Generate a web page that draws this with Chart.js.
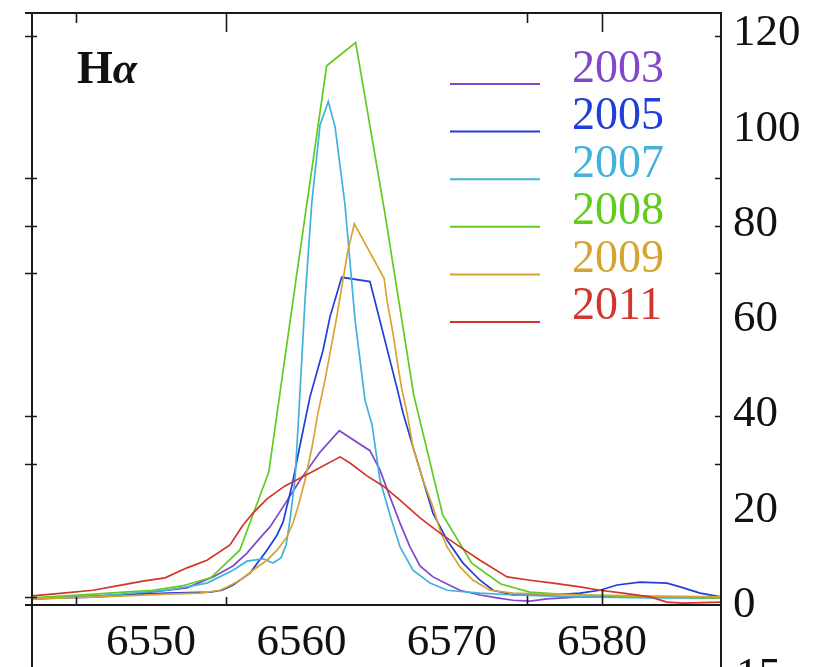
<!DOCTYPE html>
<html>
<head>
<meta charset="utf-8">
<script src="https://cdn.jsdelivr.net/npm/chart.js@4.4.1/dist/chart.umd.min.js"></script>
<style>
  html, body { margin: 0; padding: 0; background: #fff; overflow: hidden; }
  #wrap { position: relative; width: 821px; height: 667px; }
</style>
</head>
<body>
<div id="wrap"><canvas id="chart"></canvas></div>
<script>
// H-alpha line profiles, wavelength (Angstrom) vs flux, one pair of arrays per epoch
const years = ['2003', '2005', '2007', '2008', '2009', '2011'];
const colors = ['#8148cc', '#1f3fd6', '#40b2dc', '#5fcc1e', '#d8a431', '#d2352c'];

const wl2003 = [6542.08, 6546.60, 6548.80, 6552.39, 6554.12, 6555.45, 6556.38, 6557.25, 6557.91, 6558.78, 6559.91, 6561.24, 6562.52, 6564.56, 6565.23, 6565.89, 6566.56, 6567.22, 6567.89, 6568.75, 6569.69, 6570.55, 6571.88, 6573.01, 6574.08, 6575.21, 6576.34, 6578.53, 6583.19, 6587.91];
const fx2003 = [1.3, 1.7, 2.3, 3.6, 5.9, 8.2, 10.9, 14.1, 16.4, 20.6, 26.2, 32.1, 36.6, 32.4, 28.3, 22.7, 17.2, 12.2, 8.2, 5.9, 4.4, 3.1, 2.1, 1.5, 1.0, 0.8, 1.3, 1.7, 1.7, 1.5];

const wl2005 = [6542.08, 6546.60, 6551.06, 6553.92, 6554.72, 6555.45, 6556.58, 6557.71, 6558.38, 6558.78, 6559.38, 6559.91, 6560.57, 6561.44, 6561.90, 6562.68, 6564.56, 6565.43, 6566.34, 6566.76, 6567.42, 6568.09, 6568.75, 6569.69, 6570.75, 6571.88, 6572.75, 6574.08, 6576.54, 6578.53, 6579.86, 6580.99, 6582.52, 6584.32, 6585.19, 6586.52, 6587.91];
const fx2005 = [1.3, 1.9, 2.5, 2.7, 3.1, 4.2, 6.7, 11.5, 14.7, 17.4, 25.2, 33.6, 43.7, 53.5, 60.5, 68.8, 67.9, 57.1, 45.8, 40.3, 33.2, 26.2, 19.3, 13.6, 8.8, 5.2, 3.1, 2.1, 2.1, 2.5, 3.1, 4.2, 4.8, 4.6, 3.8, 2.5, 1.7];

const wl2007 = [6542.08, 6546.60, 6551.06, 6553.72, 6555.45, 6556.38, 6557.45, 6558.11, 6558.64, 6558.98, 6559.24, 6559.57, 6559.84, 6560.24, 6560.69, 6561.24, 6561.79, 6562.24, 6562.90, 6563.57, 6564.23, 6564.70, 6565.23, 6565.89, 6566.56, 6567.42, 6568.56, 6569.69, 6571.88, 6574.08, 6578.53, 6583.19, 6587.91];
const fx2007 = [1.3, 1.9, 3.1, 4.6, 7.3, 9.2, 9.7, 8.8, 9.9, 12.6, 17.8, 26.2, 40.9, 64.0, 84.4, 100.8, 105.7, 100.4, 84.0, 59.8, 43.0, 37.8, 26.2, 18.9, 12.2, 7.3, 4.6, 3.1, 2.5, 2.1, 1.7, 1.5, 1.5];

const wl2008 = [6542.08, 6544.32, 6546.25, 6548.18, 6550.11, 6552.04, 6553.97, 6555.90, 6557.83, 6559.75, 6561.68, 6563.61, 6565.54, 6567.47, 6569.40, 6571.33, 6573.26, 6575.19, 6577.12, 6579.05, 6580.97, 6582.90, 6584.83, 6586.76, 6587.91];
const fx2008 = [1.5, 1.9, 2.3, 2.7, 3.1, 4.0, 5.7, 11.5, 27.9, 70.8, 113.2, 118.1, 82.5, 44.1, 18.9, 8.8, 4.4, 2.7, 2.3, 2.1, 1.9, 1.7, 1.7, 1.5, 1.5];

const wl2009 = [6542.08, 6546.60, 6551.06, 6553.26, 6554.59, 6555.05, 6555.92, 6556.78, 6557.71, 6558.38, 6559.04, 6559.44, 6559.77, 6560.24, 6560.71, 6561.10, 6561.57, 6562.35, 6563.10, 6563.52, 6565.50, 6565.69, 6566.09, 6566.43, 6566.69, 6567.03, 6567.42, 6568.09, 6568.75, 6569.22, 6569.69, 6570.55, 6571.42, 6572.55, 6574.08, 6578.53, 6582.52, 6587.91];
const fx2009 = [1.3, 1.7, 2.3, 2.5, 3.1, 3.8, 5.2, 7.3, 9.4, 11.5, 14.3, 17.2, 20.6, 26.2, 33.2, 40.3, 47.2, 60.5, 74.5, 80.0, 68.6, 64.0, 57.1, 50.0, 45.1, 40.3, 33.2, 26.2, 20.6, 15.7, 12.2, 8.0, 5.2, 3.1, 2.5, 2.1, 1.9, 1.7];

const wl2011 = [6542.08, 6544.14, 6546.14, 6547.73, 6549.46, 6550.93, 6552.39, 6553.72, 6555.25, 6556.12, 6556.78, 6557.71, 6558.91, 6560.57, 6562.57, 6563.23, 6564.36, 6565.43, 6566.56, 6567.89, 6569.22, 6570.55, 6571.88, 6573.68, 6575.21, 6576.74, 6578.53, 6579.86, 6581.39, 6583.19, 6584.32, 6585.39, 6587.91];
const fx2011 = [1.9, 2.5, 3.1, 4.0, 5.0, 5.7, 7.8, 9.4, 12.6, 16.8, 19.3, 22.3, 25.0, 27.7, 31.1, 29.8, 27.1, 25.0, 22.0, 18.3, 15.1, 12.2, 9.4, 5.9, 5.2, 4.6, 3.8, 3.1, 2.5, 1.7, 0.6, 0.4, 0.6];

const waves = [wl2003, wl2005, wl2007, wl2008, wl2009, wl2011];
const fluxes = [fx2003, fx2005, fx2007, fx2008, fx2009, fx2011];

// axis ranges and the frame's tick marks (data units)
const xMin = 6542.08, xMax = 6587.91;
const yMin = 0, yMax = 124.5;
const xTickLabels = [6550, 6560, 6570, 6580];
const frameTicksX = [6545, 6555, 6575, 6580];
const topTickLen = [11, 20, 11, 20];
const bottomTickLen = [8, 8, 9, 16];
const frameTicksY = [119.4, 89.6, 79.6, 69.6, 39.6, 29.6, 1.7];

const serif = "'Liberation Serif', 'DejaVu Serif', serif";

const framePlugin = {
    id: 'frame',
    afterDraw(chart) {
        const ctx = chart.ctx;
        const a = chart.chartArea;
        const xs = chart.scales.x;
        const ys = chart.scales.y;
        ctx.save();
        ctx.strokeStyle = '#1a1a1a';
        ctx.lineWidth = 2;
        ctx.beginPath();
        ctx.moveTo(a.left - 7, a.top + 1); ctx.lineTo(a.right, a.top + 1);
        ctx.moveTo(a.left - 7, a.bottom); ctx.lineTo(a.right, a.bottom);
        ctx.moveTo(a.left, a.top); ctx.lineTo(a.left, chart.height);
        ctx.moveTo(a.right, a.top); ctx.lineTo(a.right, chart.height);
        ctx.stroke();

        ctx.lineWidth = 1.6;
        ctx.beginPath();
        frameTicksX.forEach((v, i) => {
            const px = Math.round(xs.getPixelForValue(v)) + 0.5;
            ctx.moveTo(px, a.top); ctx.lineTo(px, a.top + topTickLen[i]);
            ctx.moveTo(px, a.bottom); ctx.lineTo(px, a.bottom - bottomTickLen[i]);
        });
        frameTicksY.forEach((v, i) => {
            const py = Math.round(ys.getPixelForValue(v)) + 0.5;
            ctx.moveTo(a.left - 7, py); ctx.lineTo(a.left + 5, py);
            if (i < frameTicksY.length - 1) {
                ctx.moveTo(a.right - 6, py); ctx.lineTo(a.right, py);
            }
        });
        ctx.stroke();

        // legend: sample line with the year above it
        ctx.textBaseline = 'middle';
        ctx.textAlign = 'left';
        ctx.font = '46px ' + serif;
        years.forEach((y, i) => {
            const ly = 84 + 47.6 * i;
            ctx.strokeStyle = colors[i];
            ctx.lineWidth = 2;
            ctx.beginPath();
            ctx.moveTo(450, ly); ctx.lineTo(540, ly);
            ctx.stroke();
            ctx.fillStyle = colors[i];
            ctx.fillText(y, 572, 70 + 47.4 * i);
        });

        // panel label
        ctx.fillStyle = '#111';
        ctx.textBaseline = 'alphabetic';
        ctx.font = 'bold 46px ' + serif;
        ctx.fillText('H', 77, 83);
        const hw = ctx.measureText('H').width;
        ctx.font = 'italic bold 44px ' + serif;
        ctx.fillText('α', 77 + hw, 83);

        // top of the next panel's axis label, cut off by the page
        ctx.font = '45px ' + serif;
        ctx.fillText('15', 736, 688);
        ctx.restore();
    }
};

new Chart(document.getElementById('chart'), {
    type: 'line',
    data: {
        datasets: years.map((y, i) => ({
            label: y,
            data: waves[i].map((w, j) => ({ x: w, y: fluxes[i][j] })),
            borderColor: colors[i],
            borderWidth: 1.7,
            pointRadius: 0,
            tension: 0,
            fill: false,
            order: years.length - i
        }))
    },
    options: {
        responsive: true,
        maintainAspectRatio: false,
        animation: false,
        layout: { padding: { left: 32, top: 12, right: 0, bottom: 0 } },
        plugins: {
            legend: { display: false },
            tooltip: { enabled: false }
        },
        scales: {
            x: {
                type: 'linear',
                position: 'bottom',
                min: xMin,
                max: xMax,
                afterBuildTicks: scale => {
                    scale.ticks = xTickLabels.map(v => ({ value: v }));
                },
                afterFit: scale => {
                    scale.height = 62;
                    scale.paddingLeft = 0;
                    scale.paddingRight = 0;
                },
                grid: { display: false, drawTicks: false },
                border: { display: false },
                ticks: {
                    color: '#111',
                    padding: 16,
                    maxRotation: 0,
                    autoSkip: false,
                    font: { family: serif, size: 45, lineHeight: 1 },
                    callback: v => String(v)
                }
            },
            y: {
                type: 'linear',
                position: 'right',
                min: yMin,
                max: yMax,
                afterFit: scale => {
                    scale.width = 100;
                    scale.paddingTop = 0;
                    scale.paddingBottom = 0;
                },
                grid: { display: false, drawTicks: false },
                border: { display: false },
                ticks: {
                    stepSize: 20,
                    includeBounds: false,
                    color: '#111',
                    padding: 12,
                    autoSkip: false,
                    font: { family: serif, size: 45, lineHeight: 1 },
                    callback: v => String(v)
                }
            }
        }
    },
    plugins: [framePlugin]
});
</script>
</body>
</html>
